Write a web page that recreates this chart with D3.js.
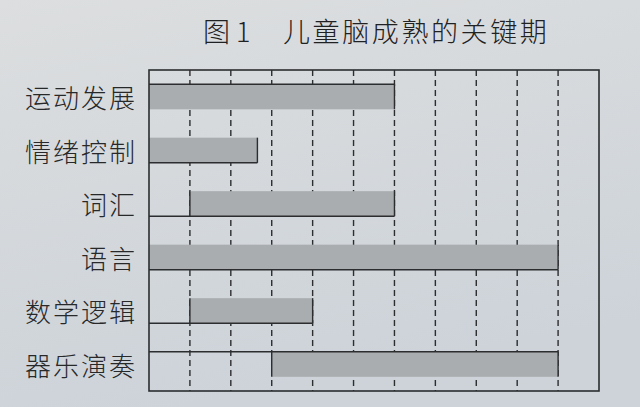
<!DOCTYPE html>
<html><head><meta charset="utf-8">
<script src="https://cdn.jsdelivr.net/npm/d3@7/dist/d3.min.js"></script>
<style>html,body{margin:0;padding:0;background:#d6dadd;}svg{display:block;}</style>
</head><body>
<svg id="c" width="640" height="407"></svg>
<script>
const categories = ["运动发展","情绪控制","词汇","语言","数学逻辑","器乐演奏"];
const startAge = [0, 0, 1, 0, 1, 3];
const endAge   = [6, 2.65, 6, 10, 4, 10];
const gridTicks = [1,2,3,4,5,6,7,8,9,10];
const titlePrefix = "图 1";
const titleText = "儿童脑成熟的关键期";

const svg = d3.select("#c");
const defs = svg.append("defs");
const g = defs.append("linearGradient").attr("id","bg").attr("x1",0).attr("y1",0).attr("x2",0.3).attr("y2",1);
g.append("stop").attr("offset","0%").attr("stop-color","#dcdedf");
g.append("stop").attr("offset","100%").attr("stop-color","#cdd3d9");
svg.append("rect").attr("width",640).attr("height",407).attr("fill","url(#bg)");

const L = 149, R = 599, T = 70, B = 391;
const x = d3.scaleLinear().domain([0, 11]).range([L, R]);
const y = d3.scaleBand().domain(categories).range([T, B]).paddingInner(0.53).paddingOuter(0.265);

const ink = "#2b2d2f";

// dashed gridlines
svg.append("g").selectAll("line").data(gridTicks).join("line")
  .attr("x1", d => x(d)).attr("x2", d => x(d))
  .attr("y1", T).attr("y2", B)
  .attr("stroke", ink).attr("stroke-width", 1.4)
  .attr("stroke-dasharray", "6,4");

const data = categories.map((c, i) => ({c, s: startAge[i], e: endAge[i], i}));

// bars
svg.append("g").selectAll("rect").data(data).join("rect")
  .attr("x", d => x(d.s)).attr("width", d => x(d.e) - x(d.s))
  .attr("y", d => y(d.c)).attr("height", y.bandwidth())
  .attr("fill", "#aaadaf");

// solid edge lines from axis to bar end
const topEdge = new Set([0, 5]);
svg.append("g").selectAll("line").data(data).join("line")
  .attr("x1", L).attr("x2", d => x(d.e))
  .attr("y1", d => topEdge.has(d.i) ? y(d.c) : y(d.c) + y.bandwidth())
  .attr("y2", d => topEdge.has(d.i) ? y(d.c) : y(d.c) + y.bandwidth())
  .attr("stroke", ink).attr("stroke-width", 1.6);
// bar ends
svg.append("g").selectAll("line").data(data).join("line")
  .attr("x1", d => x(d.e)).attr("x2", d => x(d.e))
  .attr("y1", d => y(d.c)).attr("y2", d => y(d.c) + y.bandwidth())
  .attr("stroke", ink).attr("stroke-width", 1.4);
// bar starts (when not at axis)
svg.append("g").selectAll("line").data(data.filter(d => d.s > 0)).join("line")
  .attr("x1", d => x(d.s)).attr("x2", d => x(d.s))
  .attr("y1", d => y(d.c)).attr("y2", d => y(d.c) + y.bandwidth())
  .attr("stroke", ink).attr("stroke-width", 1.4);

// frame
svg.append("rect").attr("x", L).attr("y", T).attr("width", R - L).attr("height", B - T)
  .attr("fill", "none").attr("stroke", ink).attr("stroke-width", 1.6);

// category labels
svg.append("g").selectAll("text").data(categories).join("text")
  .attr("x", 137).attr("y", d => y(d) + y.bandwidth() / 2)
  .attr("text-anchor", "end").attr("dominant-baseline", "central")
  .attr("font-family", "'Noto Sans CJK SC', sans-serif")
  .attr("font-size", 26).attr("letter-spacing", 2).attr("font-weight", 300)
  .attr("fill", "#26282a").text(d => d);

// title
svg.append("text").attr("x", 203).attr("y", 30).attr("dominant-baseline", "central")
  .attr("font-family", "'Noto Sans CJK SC', sans-serif").attr("font-size", 27).attr("font-weight", 300)
  .attr("fill", "#1f2123").text(titlePrefix);
svg.append("text").attr("x", 283).attr("y", 30).attr("dominant-baseline", "central")
  .attr("font-family", "'Noto Sans CJK SC', sans-serif").attr("font-size", 27).attr("font-weight", 300)
  .attr("letter-spacing", 2.6)
  .attr("fill", "#1f2123").text(titleText);
</script>
</body></html>
